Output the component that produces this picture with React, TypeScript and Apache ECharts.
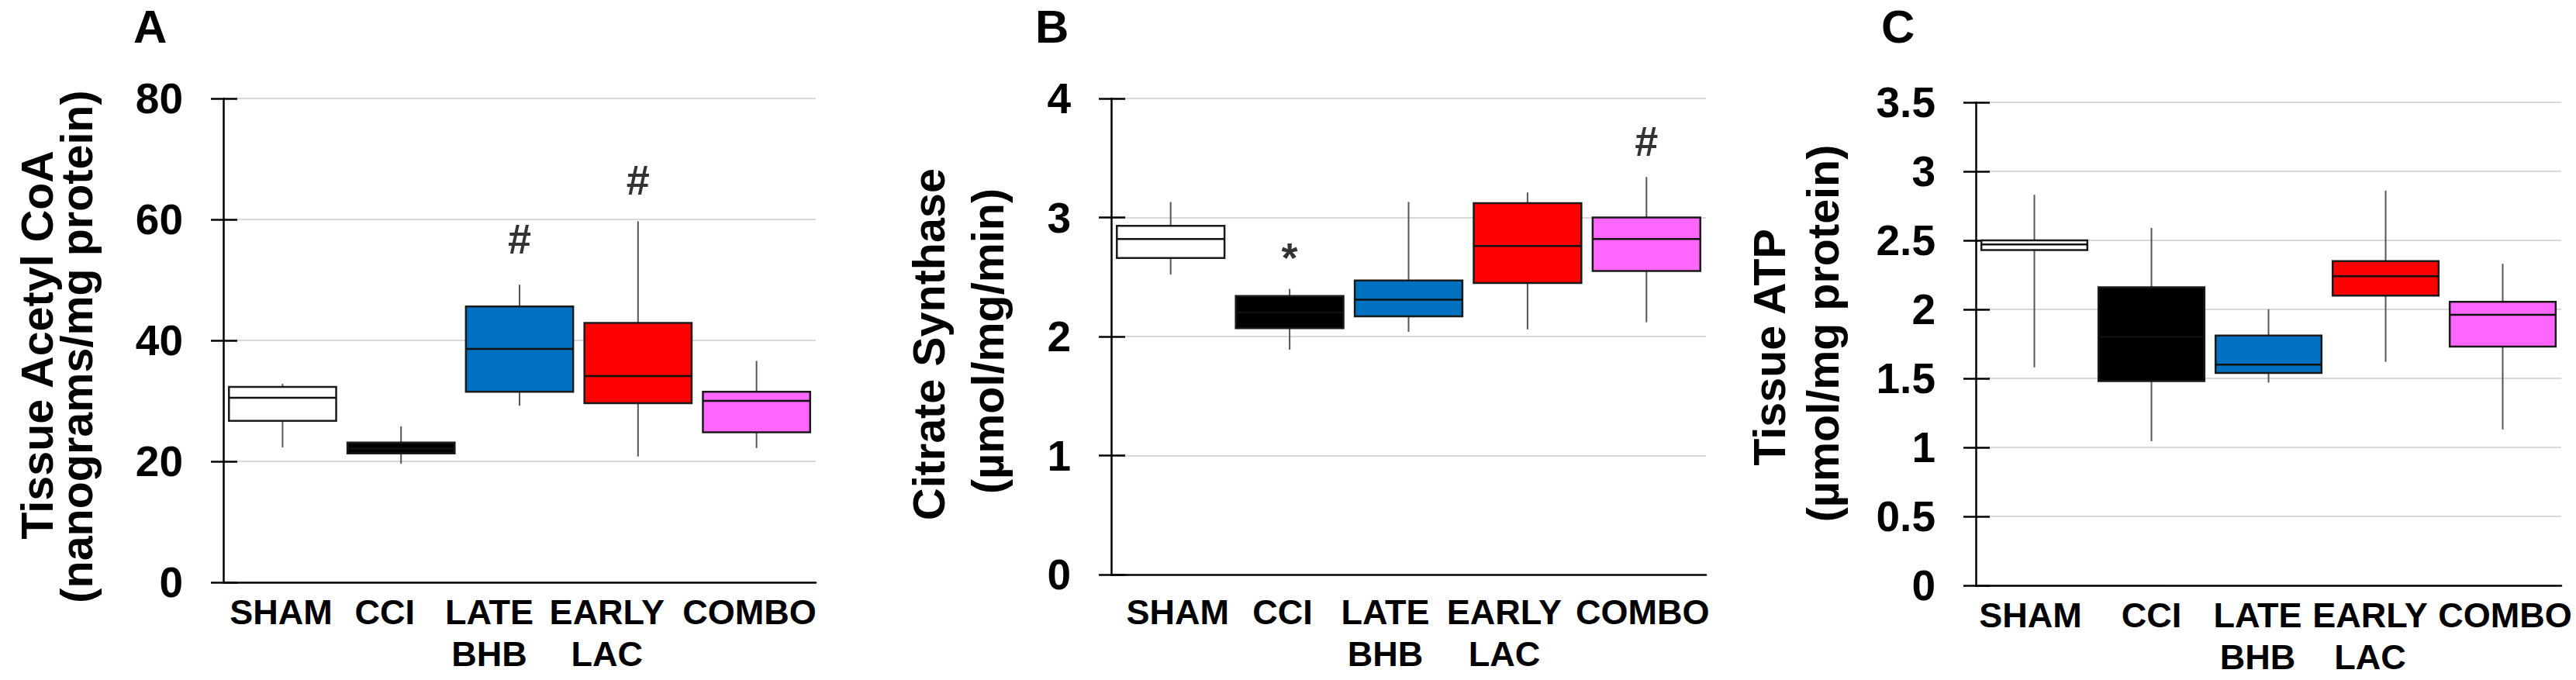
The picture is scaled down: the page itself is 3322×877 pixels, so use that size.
import React, { useEffect, useRef } from 'react';
import * as echarts from 'echarts';

// ---------------- data ----------------
const categories = ['SHAM', 'CCI', 'LATE\nBHB', 'EARLY\nLAC', 'COMBO'];
const groupColors = ['#FFFFFF', '#000000', '#0070C0', '#FF0000', '#FF66FF'];

// each row: [min, Q1, median, Q3, max]
const acetylCoA = [
  [22.3, 26.7, 30.5, 32.3, 32.8],
  [19.6, 21.3, 22.1, 23.1, 25.8],
  [29.2, 31.5, 38.6, 45.6, 49.2],
  [20.8, 29.6, 34.1, 42.9, 59.7],
  [22.2, 24.8, 30.0, 31.5, 36.6],
];
const citrateSynthase = [
  [2.52, 2.66, 2.82, 2.93, 3.13],
  [1.89, 2.07, 2.2, 2.34, 2.4],
  [2.04, 2.17, 2.31, 2.47, 3.13],
  [2.06, 2.45, 2.76, 3.12, 3.21],
  [2.12, 2.55, 2.82, 3.0, 3.34],
];
const tissueATP = [
  [1.58, 2.43, 2.47, 2.5, 2.83],
  [1.045, 1.48, 1.8, 2.16, 2.59],
  [1.47, 1.54, 1.6, 1.81, 2.0],
  [1.62, 2.1, 2.24, 2.35, 2.86],
  [1.13, 1.73, 1.96, 2.055, 2.33],
];

// y-axis tick settings
const acetylTicks = { min: 0, max: 80, interval: 20 };
const citrateTicks = { min: 0, max: 4, interval: 1 };
const atpTicks = { min: 0, max: 3.5, interval: 0.5 };

// significance marks: [category index, value, symbol]
const acetylMarks: [number, number, string][] = [[2, 56.8, '#'], [3, 66.5, '#']];
const citrateMarks: [number, number, string][] = [[1, 2.75, '*'], [4, 3.64, '#']];
const atpMarks: [number, number, string][] = [];

const panelLetters = ['A', 'B', 'C'];
const yTitles = [
  ['Tissue Acetyl CoA', '(nanograms/mg protein)'],
  ['Citrate Synthase', '(µmol/mg/min)'],
  ['Tissue ATP', '(µmol/mg protein)'],
];

// ---------------- layout ----------------
const FONT = "'Liberation Sans', Arial, Helvetica, sans-serif";
const layout = [
  {
    grid: { left: 288, top: 127, width: 764, height: 624 },
    labelMargin: 11, labelShift: [-2, -21, -39, -40, -9],
    letter: { x: 172, y: 34 },
    titleX: [48, 99], titleY: [445, 447],
  },
  {
    grid: { left: 1433, top: 127, width: 767, height: 614 },
    labelMargin: 21, labelShift: [9, -9, -30, -30, -5],
    letter: { x: 1335, y: 34 },
    titleX: [1198, 1274], titleY: [444, 440],
  },
  {
    grid: { left: 2548, top: 132, width: 755, height: 623 },
    labelMargin: 11, labelShift: [-5, 0, -14, -20, 3],
    letter: { x: 2426, y: 34 },
    titleX: [2282, 2351], titleY: [448, 430],
  },
];

const panelValues = [acetylCoA, citrateSynthase, tissueATP];
const panelTicks = [acetylTicks, citrateTicks, atpTicks];
const panelMarks = [acetylMarks, citrateMarks, atpMarks];

function renderBox(params: any, api: any) {
  const ci = api.value(0);
  const x = api.coord([ci, 0])[0];
  const bw = api.size([1, 0])[0] * 0.905;
  const yv = (k: number) => api.coord([ci, api.value(k)])[1];
  const yMin = yv(1), yQ1 = yv(2), yMed = yv(3), yQ3 = yv(4), yMax = yv(5);
  const whisker = { stroke: '#555555', lineWidth: 2 };
  return {
    type: 'group',
    children: [
      { type: 'line', shape: { x1: x, y1: yMax, x2: x, y2: yQ3 }, style: whisker },
      { type: 'line', shape: { x1: x, y1: yQ1, x2: x, y2: yMin }, style: whisker },
      {
        type: 'rect',
        shape: { x: x - bw / 2, y: yQ3, width: bw, height: yQ1 - yQ3 },
        style: { fill: groupColors[ci], stroke: '#1a1a1a', lineWidth: 2.5 },
      },
      {
        type: 'line',
        shape: { x1: x - bw / 2, y1: yMed, x2: x + bw / 2, y2: yMed },
        style: { stroke: '#111111', lineWidth: 2.5 },
      },
    ],
  };
}

function buildOption() {
  const grids: any[] = [];
  const xAxes: any[] = [];
  const yAxes: any[] = [];
  const series: any[] = [];
  const graphics: any[] = [];

  layout.forEach((L, p) => {
    grids.push({ ...L.grid, containLabel: false, outerBoundsMode: 'none' });
    const rich: any = {};
    L.labelShift.forEach((d, i) => {
      rich['s' + i] = {
        fontSize: 45, fontWeight: 'bold', fontFamily: FONT, color: '#000', lineHeight: 54,
        padding: d < 0 ? [0, -2 * d, 0, 0] : [0, 0, 0, 2 * d],
      };
    });
    xAxes.push({
      type: 'category', gridIndex: p, data: categories, boundaryGap: true,
      axisLine: { show: true, lineStyle: { color: '#000', width: 2.5 } },
      axisTick: { show: false },
      splitLine: { show: false },
      axisLabel: {
        interval: 0, hideOverlap: false, margin: L.labelMargin,
        fontSize: 45, fontWeight: 'bold', fontFamily: FONT, color: '#000', lineHeight: 54,
        formatter: (val: string, idx: number) => val.split('\n').map((s) => `{s${idx}|${s}}`).join('\n'),
        rich,
      },
    });
    const t = panelTicks[p];
    yAxes.push({
      type: 'value', gridIndex: p, position: 'left', min: t.min, max: t.max, interval: t.interval,
      axisLine: { show: true, onZero: false, lineStyle: { color: '#000', width: 2.5 } },
      axisTick: { show: true, inside: false, length: 16, lineStyle: { color: '#000', width: 2.5 } },
      axisLabel: { show: true, margin: 52, fontSize: 55, fontWeight: 'bold', fontFamily: FONT, color: '#000' },
      splitLine: { show: true, lineStyle: { color: '#d9d9d9', width: 2 } },
    });
    yAxes.push({
      type: 'value', gridIndex: p, position: 'left', offset: 0, min: t.min, max: t.max, interval: t.interval,
      axisLine: { show: false },
      axisTick: { show: true, inside: true, length: 18, lineStyle: { color: '#000', width: 2.5 } },
      axisLabel: { show: false },
      splitLine: { show: false },
    });
    series.push({
      type: 'custom', xAxisIndex: p, yAxisIndex: 2 * p,
      renderItem: renderBox,
      encode: { x: 0, y: [1, 2, 3, 4, 5] },
      data: panelValues[p].map((row, i) => [i, ...row]),
      z: 3,
    });
    series.push({
      type: 'scatter', xAxisIndex: p, yAxisIndex: 2 * p,
      symbolSize: 1, itemStyle: { color: 'transparent' },
      data: panelMarks[p].map(([c, v, s]) => ({
        value: [c, v], name: s,
        label: { offset: s === '*' ? [0, 13] : [0, 0] },
      })),
      label: {
        show: true, position: 'inside', formatter: '{b}',
        fontSize: 54, fontWeight: 'bold', fontFamily: FONT, color: '#000',
      },
      z: 4,
    });
    graphics.push({
      type: 'text', x: L.letter.x, y: L.letter.y,
      style: { text: panelLetters[p], fontSize: 60, fontWeight: 'bold', fontFamily: FONT, fill: '#000', align: 'left', verticalAlign: 'middle' },
    });
    yTitles[p].forEach((txt, k) => {
      graphics.push({
        type: 'text', x: L.titleX[k], y: L.titleY[k], rotation: Math.PI / 2,
        style: { text: txt, fontSize: 57.5, fontWeight: 'bold', fontFamily: FONT, fill: '#000', align: 'center', verticalAlign: 'middle' },
      });
    });
  });

  return {
    animation: false,
    backgroundColor: '#ffffff',
    textStyle: { fontFamily: FONT },
    grid: grids, xAxis: xAxes, yAxis: yAxes, series, graphic: graphics,
  };
}

export default function App() {
  const ref = useRef<HTMLDivElement>(null);
  useEffect(() => {
    if (!ref.current) return;
    const chart = echarts.init(ref.current, undefined, { renderer: 'svg' });
    chart.setOption(buildOption() as any);
    return () => chart.dispose();
  }, []);
  return (
    <div
      ref={ref}
      style={{ position: 'fixed', left: 0, top: 0, width: 3322, height: 877, background: '#fff' }}
    />
  );
}
